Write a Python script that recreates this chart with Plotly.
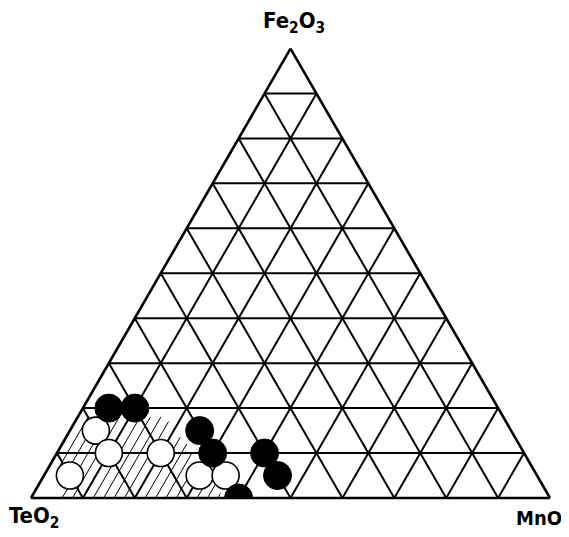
import plotly.graph_objects as go

# Ternary data: a = Fe2O3 (top), c = MnO (right), b = TeO2 (left) = 1 - a - c
filled_a = [0.20, 0.20, 0.15, 0.10, 0.10, 0.05, 0.00]
filled_c = [0.05, 0.10, 0.25, 0.30, 0.40, 0.45, 0.40]
open_a = [0.15, 0.10, 0.10, 0.05, 0.05, 0.05]
open_c = [0.05, 0.10, 0.20, 0.05, 0.30, 0.35]

# hatched (glass-forming) region: lines of constant MnO
hatch_c = [0.02, 0.04, 0.06, 0.08, 0.10, 0.12, 0.14, 0.16, 0.18, 0.20,
           0.22, 0.24, 0.26, 0.28, 0.30, 0.32, 0.34, 0.36]
hatch_lo = [0.06, 0.03, 0.0, 0.0, 0.0, 0.0, 0.0, 0.0, 0.0, 0.0,
            0.0, 0.0, 0.0, 0.0, 0.0, 0.0, 0.0, 0.0]
hatch_hi = [0.18, 0.18, 0.18, 0.18, 0.18, 0.18, 0.18, 0.18, 0.17, 0.155,
            0.135, 0.12, 0.10, 0.08, 0.065, 0.045, 0.03, 0.01]

fig = go.Figure()

ha, hb, hc = [], [], []
for c, lo, hi in zip(hatch_c, hatch_lo, hatch_hi):
    for a in (lo, hi):
        ha.append(a); hc.append(c); hb.append(1 - a - c)
    ha.append(None); hb.append(None); hc.append(None)
fig.add_trace(go.Scatterternary(a=ha, b=hb, c=hc, mode="lines",
                                line=dict(color="black", width=1),
                                hoverinfo="skip", showlegend=False))

fig.add_trace(go.Scatterternary(
    a=open_a, c=open_c, b=[1 - a - c for a, c in zip(open_a, open_c)],
    mode="markers",
    marker=dict(size=27, color="white", line=dict(color="black", width=1.6)),
    showlegend=False))

fig.add_trace(go.Scatterternary(
    a=filled_a, c=filled_c, b=[1 - a - c for a, c in zip(filled_a, filled_c)],
    mode="markers",
    marker=dict(size=28, color="black", line=dict(color="black", width=1)),
    showlegend=False))

axis = dict(showticklabels=False, ticks="", dtick=0.1, showgrid=True,
            gridcolor="black", gridwidth=1.6, linecolor="black", linewidth=2.6,
            title=dict(text=""), min=0)

# page body has an 8px margin, so the figure is drawn 8px smaller
W, H = 561, 529
x0, x1 = 23, 542
ybase = 490
yapex = ybase - (x1 - x0) * 0.8660254


def px(x, y):
    return x / W, (H - y) / H


LABEL_FONT = "Liberation Sans Narrow, DejaVu Sans Condensed, Liberation Sans"
lbl = dict(xref="paper", yref="paper", showarrow=False,
           xanchor="center", yanchor="middle", borderpad=0)
fe_x, fe_y = px(286, 14)
te_x, te_y = px(26, 509)
mn_x, mn_y = px(531, 510)

fig.update_layout(
    width=W, height=H,
    margin=dict(l=0, r=0, t=0, b=0),
    paper_bgcolor="white",
    ternary=dict(
        sum=1,
        domain=dict(x=[x0 / W, x1 / W], y=[(H - ybase) / H, (H - yapex) / H]),
        bgcolor="white",
        aaxis=axis, baxis=axis, caxis=axis,
    ),
    font=dict(family=LABEL_FONT, color="black"),
    annotations=[
        dict(text="<b>Fe<sub>2</sub>O<sub>3</sub></b>", x=fe_x, y=fe_y,
             font=dict(size=22, family=LABEL_FONT), **lbl),
        dict(text="<b>TeO<sub>2</sub></b>", x=te_x, y=te_y,
             font=dict(size=22, family=LABEL_FONT), **lbl),
        dict(text="<b>MnO</b>", x=mn_x, y=mn_y,
             font=dict(size=20, family=LABEL_FONT), **lbl),
    ],
)

fig.write_html("out.html")
